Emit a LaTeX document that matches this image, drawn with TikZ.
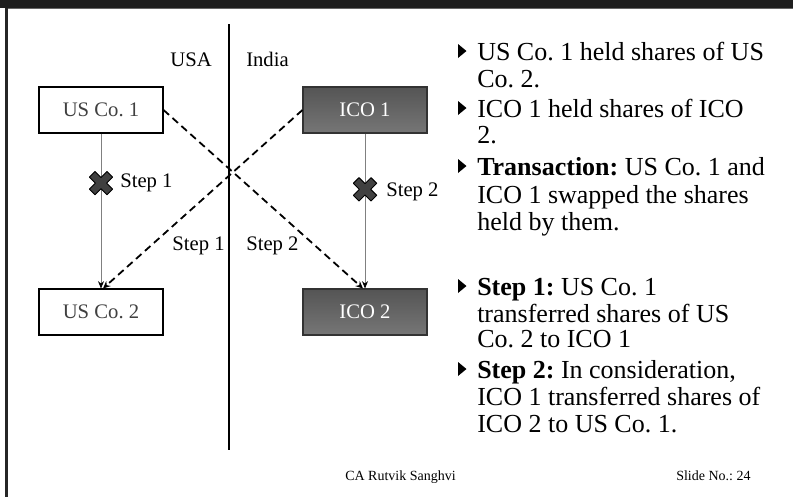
\documentclass[tikz,border=0pt]{standalone}
\usepackage{fontspec}
\setmainfont{Liberation Serif}
\usetikzlibrary{arrows.meta}
\frenchspacing
\definecolor{bandcol}{HTML}{1E1E1E}
\definecolor{boxtext}{HTML}{404040}
\definecolor{darkbox}{HTML}{5E5E5E}
\definecolor{linkgray}{HTML}{808080}
\definecolor{crossfill}{HTML}{404040}
\tikzset{
  whitebox/.style={draw=black, line width=0.8pt, fill=white, text=boxtext,
    minimum width=93pt, minimum height=34.5pt, inner sep=0pt, font=\fontsize{15.5}{17}\selectfont},
  darkbox/.style={draw=black!80, line width=0.8pt, top color=darkbox!90!black, bottom color=darkbox!85!white,
    text=white, minimum width=93pt, minimum height=34.5pt, inner sep=0pt, font=\fontsize{15.5}{17}\selectfont},
  holding/.style={draw=linkgray, line width=0.6pt, -{Stealth[length=5.5pt,width=4.5pt,color=black]}},
  transfer/.style={draw=black, line width=1.35pt, dash pattern=on 5.5pt off 3.5pt,
    -{Stealth[length=5.5pt,width=5pt]}},
  lbl/.style={font=\fontsize{15.5}{17}\selectfont, inner sep=0pt},
  bodyline/.style={anchor=base west, inner sep=0pt, font=\fontsize{19.5}{22}\selectfont},
  footer/.style={anchor=base west, inner sep=0pt, font=\fontsize{10.5}{12}\selectfont},
  cross/.pic={
    \filldraw[fill=crossfill, draw=black, line width=0.7pt, line join=round, rotate=45]
      (-4,12.5) -- (4,12.5) -- (4,4) -- (12.5,4) -- (12.5,-4) -- (4,-4) -- (4,-12.5)
      -- (-4,-12.5) -- (-4,-4) -- (-12.5,-4) -- (-12.5,4) -- (-4,4) -- cycle;
  },
  bullet/.pic={
    \fill[black] (0,-16) -- (8.5,-9) -- (0,-2) -- cycle;
  }
}
\begin{document}
\begin{tikzpicture}[x=0.75pt,y=-0.75pt]
  \useasboundingbox (0,0) rectangle (793,497);
  % slide frame
  \fill[white] (0,0) rectangle (793,497);
  \fill[bandcol] (0,0) rectangle (793,8);
  \draw[black!60, line width=0.4pt] (8,8.4) -- (793,8.4);
  \fill[black!85] (5,8) rectangle (7.5,497);

  % border between the two countries
  \coordinate (divtop) at (229,24);
  \coordinate (divbot) at (229,450);
  \draw[black, line width=0.8pt] (divtop) -- (divbot);
  \node[lbl, anchor=base east] (usa) at (212,66) {USA};
  \node[lbl, anchor=base west] (india) at (246,66) {India};

  % companies
  \node[whitebox] (usco1) at (101,110) {US Co. 1};
  \node[darkbox]  (ico1)  at (365,110) {ICO 1};
  \node[whitebox] (usco2) at (101,312) {US Co. 2};
  \node[darkbox]  (ico2)  at (365,312) {ICO 2};

  % original holdings
  \draw[holding] (usco1.south) -- (usco2.north)
    coordinate[pos=0.32] (cutA);
  \draw[holding] (ico1.south) -- (ico2.north)
    coordinate[pos=0.36] (cutB);

  % share transfers
  \draw[transfer] (usco1.east) -- ([xshift=-1.5pt]ico2.north);
  \draw[transfer] (ico1.west) -- ([xshift=1.5pt]usco2.north);

  % holdings given up
  \pic at (cutA) {cross};
  \pic at (cutB) {cross};
  \node[lbl, anchor=west] (s1a) at (120,183) {Step 1};
  \node[lbl, anchor=west] (s2a) at (386,192) {Step 2};
  \node[lbl, anchor=base east] (s1b) at (225,250) {Step 1};
  \node[lbl, anchor=base west] (s2b) at (246,250) {Step 2};

  % notes
  \pic at (458,60) {bullet};
  \node[bodyline] (t1) at (477,60) {US Co. 1 held shares of US};
  \node[bodyline] (t2) at (477,87) {Co. 2.};
  \pic at (458,117) {bullet};
  \node[bodyline] (t3) at (477,117) {ICO 1 held shares of ICO};
  \node[bodyline] (t4) at (477,143) {2.};
  \pic at (458,175) {bullet};
  \node[bodyline] (t5) at (477,175) {\textbf{Transaction:} US Co. 1 and};
  \node[bodyline] (t6) at (477,203) {ICO 1 swapped the shares};
  \node[bodyline] (t7) at (477,230) {held by them.};

  \pic at (458,295) {bullet};
  \node[bodyline] (u1) at (477,295) {\textbf{Step 1:} US Co. 1};
  \node[bodyline] (u2) at (477,322) {transferred shares of US};
  \node[bodyline] (u3) at (477,347) {Co. 2 to ICO 1};
  \pic at (458,378) {bullet};
  \node[bodyline] (u4) at (477,378) {\textbf{Step 2:} In consideration,};
  \node[bodyline] (u5) at (477,405) {ICO 1 transferred shares of};
  \node[bodyline] (u6) at (477,432) {ICO 2 to US Co. 1.};

  % footer
  \node[footer] (author) at (345,480) {CA Rutvik Sanghvi};
  \node[footer] (slideno) at (676,480) {Slide No.: 24};
\end{tikzpicture}
\end{document}
